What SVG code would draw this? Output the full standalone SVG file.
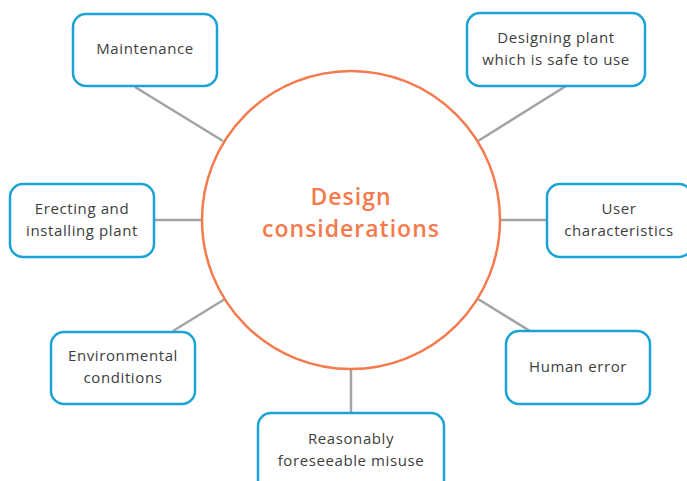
<svg xmlns="http://www.w3.org/2000/svg" width="687" height="481" viewBox="0 0 687 481">
<style>
.box{fill:#fff;stroke:#1ba3d6;stroke-width:2.5}
.t{font-family:"Open Sans","Liberation Sans",sans-serif;font-size:15px;letter-spacing:0.6px;fill:#3d3d3d;text-anchor:middle}
.c{stroke:#a3a3a3;stroke-width:2.5;fill:none}
.title{font-family:"Open Sans","Liberation Sans",sans-serif;font-size:23px;letter-spacing:1px;font-weight:600;fill:#f57a4d;text-anchor:middle}
</style>
<rect width="687" height="481" fill="#fff"/>
<g id="connectors">
<line class="c" x1="135" y1="87" x2="223" y2="141"/>
<line class="c" x1="566" y1="86" x2="478" y2="141"/>
<line class="c" x1="154" y1="220" x2="202" y2="220"/>
<line class="c" x1="500" y1="220" x2="547" y2="220"/>
<line class="c" x1="173" y1="331" x2="225" y2="299"/>
<line class="c" x1="530" y1="331" x2="478" y2="299"/>
<line class="c" x1="351" y1="370" x2="351" y2="413"/>
</g>
<g id="center">
<circle cx="351" cy="220" r="149" fill="#fff" stroke="#f57a4d" stroke-width="2.5"/>
<text class="title" x="351" y="205">Design</text>
<text class="title" x="351" y="237">considerations</text>
</g>
<g id="maintenance">
<rect class="box" x="73" y="14" width="144" height="72" rx="13"/>
<text class="t" x="145" y="54">Maintenance</text>
</g>
<g id="designing">
<rect class="box" x="467" y="13" width="178" height="73" rx="13"/>
<text class="t" x="556" y="43">Designing plant</text>
<text class="t" x="556" y="65">which is safe to use</text>
</g>
<g id="erecting">
<rect class="box" x="10" y="184" width="144" height="73" rx="13"/>
<text class="t" x="82" y="214">Erecting and</text>
<text class="t" x="82" y="236">installing plant</text>
</g>
<g id="user">
<rect class="box" x="547" y="184" width="145" height="73" rx="13"/>
<text class="t" x="619" y="214">User</text>
<text class="t" x="619" y="236">characteristics</text>
</g>
<g id="environmental">
<rect class="box" x="51" y="332" width="144" height="72" rx="13"/>
<text class="t" x="123" y="361">Environmental</text>
<text class="t" x="123" y="383">conditions</text>
</g>
<g id="human">
<rect class="box" x="506" y="331" width="144" height="73" rx="13"/>
<text class="t" x="578" y="372">Human error</text>
</g>
<g id="misuse">
<rect class="box" x="258" y="413" width="186" height="80" rx="13"/>
<text class="t" x="351" y="444">Reasonably</text>
<text class="t" x="351" y="466">foreseeable misuse</text>
</g>
</svg>
